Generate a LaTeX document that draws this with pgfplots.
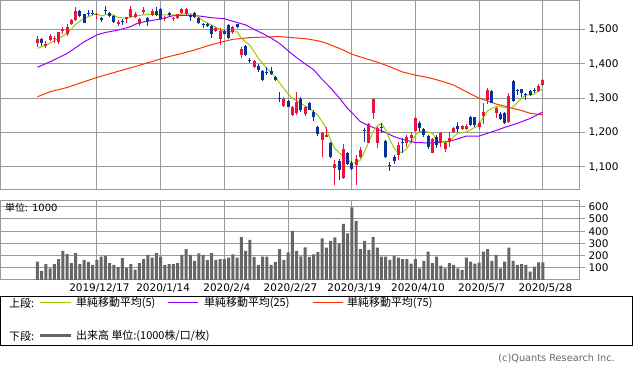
\documentclass[border=0pt]{standalone}
\usepackage{fontspec}
\setmainfont{DejaVu Sans}
\newfontfamily\jp{Noto Sans CJK JP}
\usepackage{pgfplots}
\usepackage{pgfplotstable}
\pgfplotsset{compat=1.18}
\definecolor{cred}{RGB}{235,20,60}
\definecolor{cblue}{RGB}{10,50,155}
\definecolor{ma5}{RGB}{153,204,0}
\definecolor{ma25}{RGB}{153,0,255}
\definecolor{ma75}{RGB}{255,51,0}
\definecolor{gridc}{RGB}{153,153,153}
\definecolor{volc}{RGB}{102,102,102}

\pgfplotstableread{
i o h l c
0 1461 1480 1450 1472
2 1452 1467 1447 1458
3 1470 1486 1467 1482
4 1471 1480 1461 1476
5 1464 1493 1458 1491
6 1496 1506 1488 1500
7 1486 1517 1482 1506
8 1515 1529 1514 1527
9 1527 1566 1525 1553
14 1544 1549 1529 1546
19 1515 1527 1511 1522
21 1529 1537 1519 1535
22 1537 1568 1535 1559
23 1537 1551 1532 1545
24 1515 1532 1510 1529
25 1551 1564 1546 1556
27 1542 1558 1539 1553
30 1531 1539 1525 1533
32 1531 1537 1525 1533
33 1532 1546 1530 1545
34 1548 1561 1545 1559
35 1546 1561 1539 1558
42 1496 1506 1493 1503
43 1471 1503 1454 1495
46 1491 1510 1488 1508
48 1425 1450 1416 1443
51 1391 1411 1387 1408
58 1278 1302 1275 1299
60 1251 1277 1248 1273
61 1256 1317 1251 1290
63 1253 1277 1249 1275
67 1178 1202 1128 1200
68 1188 1217 1186 1193
70 1098 1120 1047 1110
72 1067 1167 1065 1152
75 1106 1135 1047 1122
76 1130 1159 1125 1149
78 1171 1227 1169 1224
79 1258 1299 1238 1297
80 1171 1217 1156 1212
85 1135 1173 1120 1164
87 1171 1193 1159 1188
88 1183 1201 1169 1193
89 1205 1246 1202 1243
93 1141 1183 1140 1180
95 1169 1202 1159 1198
96 1151 1173 1144 1171
97 1173 1202 1159 1185
98 1201 1217 1198 1212
100 1211 1222 1207 1219
101 1210 1224 1207 1220
104 1215 1234 1210 1229
105 1249 1287 1225 1261
106 1295 1331 1283 1324
108 1256 1273 1241 1270
111 1230 1316 1227 1307
118 1321 1340 1318 1336
119 1338 1356 1335 1353
}\up

\pgfplotstableread{
i o h l c
1 1472 1474 1452 1461
10 1553 1556 1535 1539
11 1544 1546 1519 1520
12 1549 1556 1539 1547
13 1549 1556 1542 1547
15 1534 1537 1522 1527
16 1555 1568 1546 1553
17 1549 1551 1537 1540
18 1539 1542 1519 1522
20 1523 1529 1513 1521
26 1532 1537 1511 1525
28 1553 1564 1539 1542
29 1559 1561 1527 1529
31 1549 1551 1540 1542
36 1542 1545 1525 1535
37 1549 1551 1532 1535
38 1532 1535 1517 1519
39 1516 1519 1503 1514
40 1517 1519 1508 1510
41 1511 1513 1476 1488
44 1496 1498 1486 1488
45 1513 1515 1472 1474
47 1515 1517 1503 1506
49 1452 1454 1423 1425
50 1410 1416 1401 1408
52 1394 1398 1377 1382
53 1380 1382 1351 1353
54 1377 1391 1367 1375
55 1379 1390 1367 1370
56 1362 1365 1350 1353
57 1300 1317 1290 1298
59 1292 1295 1273 1275
62 1299 1304 1261 1265
64 1285 1288 1265 1267
65 1261 1265 1234 1246
66 1217 1219 1190 1196
69 1171 1173 1125 1128
71 1117 1122 1062 1091
73 1140 1144 1106 1110
74 1112 1118 1091 1093
77 1206 1212 1173 1204
81 1215 1227 1198 1213
82 1175 1178 1125 1130
83 1105 1115 1089 1103
84 1130 1135 1110 1117
86 1174 1185 1140 1172
90 1229 1234 1202 1212
91 1209 1212 1188 1193
92 1191 1193 1151 1159
94 1188 1193 1154 1164
99 1220 1230 1202 1210
102 1246 1248 1219 1222
103 1244 1246 1217 1222
107 1322 1324 1285 1287
109 1254 1259 1236 1239
110 1256 1261 1225 1229
112 1350 1353 1290 1293
113 1323 1328 1309 1321
114 1326 1327 1302 1316
115 1312 1316 1295 1310
116 1321 1324 1306 1309
117 1325 1331 1316 1323
}\down

\pgfplotstableread{
i v
0 150
1 74
2 131
3 96
4 131
5 172
6 238
7 213
8 139
9 221
10 131
11 164
12 148
13 123
14 164
15 191
16 197
17 139
18 123
19 107
20 180
21 98
22 131
23 85
24 139
25 172
26 205
27 183
28 221
29 191
30 123
31 131
32 131
33 139
34 205
35 254
36 205
37 156
38 219
39 205
40 164
41 221
42 164
43 172
44 172
45 183
46 210
47 183
48 352
49 238
50 328
51 189
52 123
53 191
54 191
55 123
56 148
57 254
58 164
59 227
60 402
61 238
62 194
63 268
64 189
65 210
66 229
67 342
68 265
69 320
70 350
71 301
72 459
73 382
74 596
75 484
76 254
77 320
78 246
79 352
80 265
81 191
82 191
83 164
84 197
85 183
86 172
87 172
88 134
89 172
90 96
91 156
92 232
93 139
94 191
95 117
96 96
97 139
98 123
99 96
100 82
101 183
102 150
103 134
104 142
105 232
106 254
107 156
108 205
109 96
110 150
111 265
112 156
113 123
114 131
115 123
116 68
117 109
118 145
119 145
}\vol

\pgfplotsset{
  panel/.style={
    scale only axis, anchor=south west,
    width=578.5bp,
    xmin=-8.7, xmax=127.5,
    xtick={14,29,44,59,74,89,104,119},
    ytick pos=right, yticklabel pos=right,
    grid=major,
    major grid style={gridc, line width=1bp},
    axis line style={gridc, line width=1bp},
    tick align=outside, major tick length=6bp,
    x tick style={draw=none},
    y tick style={gridc, line width=1bp},
    tick label style={font=\fontsize{10.5}{12}\selectfont, text=black},
    xticklabel style={yshift=6bp, xshift=2.5bp},
    /pgf/number format/1000 sep={,},
    /pgf/number format/assume math mode=true,
    enlargelimits=false,
  },
  wick/.style={draw=none, mark=none, forget plot,
    error bars/.cd, y dir=plus, y explicit, error mark=none,
    error bar style={line width=1bp, draw=#1, solid}},
  body/.style={draw=none, mark=none, forget plot,
    error bars/.cd, y dir=plus, y explicit, error mark=none,
    error bar style={line width=3bp, draw=#1, solid}},
}

\begin{document}
\begin{tikzpicture}
\path[use as bounding box] (0,0) rectangle (633bp,374bp);

% price panel
\begin{axis}[panel,
  at={(0.5bp,184bp)}, height=189.5bp,
  ymin=1033, ymax=1584,
  ytick={1100,1200,1300,1400,1500},
  xticklabels={},
]
\addplot[ma75, line width=1bp] coordinates {
(0,1304) (3,1319) (7,1331) (11,1348) (15,1364) (19,1378) (23,1392) (26,1403) (30,1418) (34,1430) (37,1440) (40,1452) (43,1462) (46,1471) (50,1476) (54,1478) (57,1479) (60,1476) (63,1473) (66,1467) (68,1460) (70,1450) (72,1440) (74,1428) (77,1416) (80,1405) (83,1391) (86,1376) (89,1367) (92,1360) (95,1350) (98,1338) (100,1325) (102,1312) (104,1300) (106,1292) (108,1283) (110,1277) (112,1270) (114,1264) (116,1256) (118,1253) (119,1252)};
\addplot[ma25, line width=1bp] coordinates {
(0,1390) (3,1406) (7,1430) (11,1464) (14,1484) (16,1491) (19,1498) (22,1508) (23,1515) (25,1522) (29,1530) (32,1540) (35,1541) (38,1539) (41,1534) (44,1531) (47,1520) (49,1513) (51,1500) (53,1488) (55,1475) (57,1459) (59,1438) (61,1418) (63,1400) (65,1383) (67,1355) (69,1330) (71,1302) (73,1270) (74,1258) (76,1232) (78,1220) (80,1210) (82,1200) (84,1188) (86,1180) (89,1171) (92,1170) (95,1171) (98,1178) (101,1190) (104,1190) (107,1202) (110,1215) (113,1227) (116,1241) (119,1260)};
\addplot[ma5, line width=1bp] coordinates {
(0,1445) (2,1454) (5,1474) (7,1488) (9,1515) (11,1532) (13,1542) (14,1545) (15,1539) (17,1546) (19,1535) (21,1532) (23,1539) (25,1542) (27,1544) (29,1542) (31,1542) (33,1542) (35,1546) (37,1544) (39,1525) (41,1513) (43,1500) (44,1493) (46,1493) (47,1493) (48,1474) (50,1454) (52,1416) (54,1387) (56,1362) (58,1328) (60,1299) (62,1285) (64,1270) (66,1251) (67,1232) (68,1212) (69,1178) (70,1154) (72,1130) (74,1112) (75,1112) (76,1120) (77,1144) (78,1173) (79,1202) (80,1219) (81,1227) (82,1207) (83,1178) (84,1154) (85,1141) (86,1144) (87,1154) (88,1173) (89,1193) (90,1202) (91,1205) (93,1198) (94,1178) (95,1171) (97,1173) (98,1188) (99,1198) (101,1202) (103,1215) (104,1222) (105,1246) (106,1263) (108,1277) (110,1273) (111,1270) (112,1275) (114,1300) (115,1309) (117,1312) (118,1322) (119,1326)};
\addplot[wick=cred] table[x=i, y=l, y error expr=\thisrow{h}-\thisrow{l}] {\up};
\addplot[body=cred] table[x=i, y=o, y error expr=\thisrow{c}-\thisrow{o}] {\up};
\addplot[wick=cblue] table[x=i, y=l, y error expr=\thisrow{h}-\thisrow{l}] {\down};
\addplot[body=cblue] table[x=i, y=c, y error expr=\thisrow{o}-\thisrow{c}] {\down};
\end{axis}

% volume panel
\begin{axis}[panel,
  at={(0.5bp,94bp)}, height=79bp,
  ymin=0, ymax=647.5,
  ytick={100,200,300,400,500,600},
  xticklabels={2019/12/17,2020/1/14,2020/2/4,2020/2/27,2020/3/19,2020/4/10,2020/5/7,2020/5/28},
]
\addplot[ybar, bar width=3bp, fill=volc, draw=none] table[x=i, y=v] {\vol};
\end{axis}
\node[anchor=west, font=\fontsize{10}{12}\selectfont, inner sep=0pt] at (5bp,166bp) {{\jp 単位:} 1000};

% legend box
\draw[black, line width=1bp] (0.5bp,28bp) rectangle (632.5bp,77bp);
\begin{scope}[every node/.style={anchor=west, inner sep=0pt, font=\jp\fontsize{11}{13}\selectfont}]
\node at (9bp,71bp) {上段:};
\draw[ma5, line width=1bp] (40bp,71bp) -- (71bp,71bp);
\node at (76bp,71bp) {単純移動平均(5)};
\draw[ma25, line width=1bp] (168bp,71bp) -- (198bp,71bp);
\node at (204bp,71bp) {単純移動平均(25)};
\draw[ma75, line width=1bp] (313bp,71bp) -- (343bp,71bp);
\node at (347bp,71bp) {単純移動平均(75)};
\node at (9bp,38bp) {下段:};
\draw[volc, line width=3bp] (40bp,38bp) -- (71bp,38bp);
\node at (76bp,38bp) {出来高 単位:(1000株/口/枚)};
\end{scope}
\node[anchor=east, inner sep=0pt, text=volc, font=\fontsize{9.8}{11}\selectfont] at (615bp,16bp) {(c)Quants Research Inc.};
\end{tikzpicture}
\end{document}
